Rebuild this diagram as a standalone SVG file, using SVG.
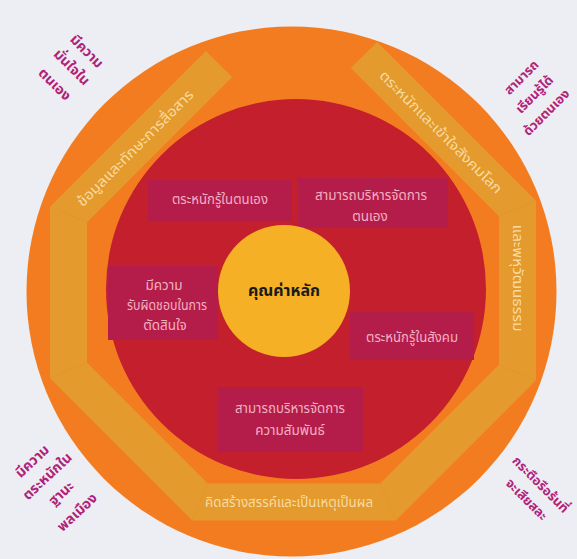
<svg xmlns="http://www.w3.org/2000/svg" width="577" height="559" viewBox="0 0 577 559">
<style>
text{font-family:"Noto Sans Thai","Noto Sans Thai UI","Noto Sans","DejaVu Sans",sans-serif;text-anchor:middle}
.bar{fill:#e49a2c}
.bart{fill:#f7dba2;font-size:14px}
.box{fill:#b41d4a}
.boxt{fill:#f3b0c2;font-size:13.5px}
.corner{fill:#b0237a;font-size:14px;font-weight:bold}
.cs{font-size:13px}
</style>
<rect width="577" height="559" fill="#eceef3"/>
<g id="outer-ring">
<circle cx="291.5" cy="291.5" r="265" fill="#f47c20"/>
</g>
<g id="bar-communication">
<polygon class="bar" points="50,206.8 205.9,50.9 232.1,77.1 87,222.2"/>
<text class="bart" transform="translate(135,148) rotate(-45)" y="5" textLength="158" lengthAdjust="spacingAndGlyphs">ข้อมูลและทักษะการสื่อสาร</text>
</g>
<g id="bar-global">
<polygon class="bar" points="377.1,41.9 536,200.8 499,216.2 350.9,68.1"/>
<text class="bart" transform="translate(441,132) rotate(45)" y="5" textLength="167" lengthAdjust="spacingAndGlyphs">ตระหนักและเข้าใจสังคมโลก</text>
</g>
<g id="bar-multicultural">
<polygon class="bar" points="536,380.2 536,200.8 499,216.2 499,364.8"/>
<text class="bart" transform="translate(518,278) rotate(90)" y="5" textLength="107" lengthAdjust="spacingAndGlyphs">และพหุวัฒนธรรม</text>
</g>
<g id="bar-left">
<polygon class="bar" points="50,206.8 50,378.2 87,362.8 87,222.2"/>
</g>
<g id="bar-bottom-left">
<polygon class="bar" points="50,378.2 192.3,520.5 207.7,483.5 87,362.8"/>
</g>
<g id="bar-creative">
<polygon class="bar" points="192.3,520.5 395.7,520.5 380.3,483.5 207.7,483.5"/>
<text class="bart" x="289" y="507" textLength="168" lengthAdjust="spacingAndGlyphs">คิดสร้างสรรค์และเป็นเหตุเป็นผล</text>
</g>
<g id="bar-bottom-right">
<polygon class="bar" points="395.7,520.5 536,380.2 499,364.8 380.3,483.5"/>
</g>
<g id="red-circle">
<circle cx="296" cy="289" r="190" fill="#c31f2d"/>
</g>
<g id="box-self-awareness">
<rect class="box" x="148" y="180" width="144" height="42"/>
<text class="boxt" x="220" y="204" textLength="96" lengthAdjust="spacingAndGlyphs">ตระหนักรู้ในตนเอง</text>
</g>
<g id="box-self-management">
<rect class="box" x="298" y="178" width="150" height="50"/>
<text class="boxt" x="371" y="199.5" textLength="112" lengthAdjust="spacingAndGlyphs">สามารถบริหารจัดการ</text>
<text class="boxt" x="370" y="220.5">ตนเอง</text>
</g>
<g id="box-responsibility">
<rect class="box" x="108" y="266" width="110" height="74"/>
<text class="boxt" x="164" y="289.5">มีความ</text>
<text class="boxt" x="167" y="309.5" textLength="80" lengthAdjust="spacingAndGlyphs">รับผิดชอบในการ</text>
<text class="boxt" x="165" y="329.5">ตัดสินใจ</text>
</g>
<g id="box-social-awareness">
<rect class="box" x="350" y="312" width="124" height="48"/>
<text class="boxt" x="412" y="341.5" textLength="92" lengthAdjust="spacingAndGlyphs">ตระหนักรู้ในสังคม</text>
</g>
<g id="box-relationship">
<rect class="box" x="218" y="387" width="145" height="65"/>
<text class="boxt" x="290" y="412.5" textLength="110" lengthAdjust="spacingAndGlyphs">สามารถบริหารจัดการ</text>
<text class="boxt" x="290" y="434.5">ความสัมพันธ์</text>
</g>
<g id="core">
<circle cx="284" cy="291" r="66" fill="#f5b025"/>
<text x="284" y="296" font-size="16" font-weight="bold" fill="#1a1a1a" textLength="72" lengthAdjust="spacingAndGlyphs">คุณค่าหลัก</text>
</g>
<g id="corner-confidence">
<text class="corner" transform="translate(87,51) rotate(45)" y="5">มีความ</text>
<text class="corner" transform="translate(72,67) rotate(45)" y="5">มั่นใจใน</text>
<text class="corner" transform="translate(55,84) rotate(45)" y="5">ตนเอง</text>
</g>
<g id="corner-learning">
<text class="corner cs" transform="translate(521,77) rotate(-45)" y="5">สามารถ</text>
<text class="corner cs" transform="translate(534,94) rotate(-45)" y="5">เรียนรู้ได้</text>
<text class="corner cs" transform="translate(546,112) rotate(-45)" y="5">ด้วยตนเอง</text>
</g>
<g id="corner-citizenship">
<text class="corner" transform="translate(32,461) rotate(-43)" y="5">มีความ</text>
<text class="corner" transform="translate(47,476) rotate(-43)" y="5">ตระหนักใน</text>
<text class="corner" transform="translate(61,493) rotate(-43)" y="5">ฐานะ</text>
<text class="corner" transform="translate(77,512) rotate(-43)" y="5">พลเมือง</text>
</g>
<g id="corner-sacrifice">
<text class="corner cs" transform="translate(541,484) rotate(45)" y="5">กระตือรือร้นที่</text>
<text class="corner cs" transform="translate(527,499) rotate(45)" y="5">จะเสียสละ</text>
</g>
</svg>
